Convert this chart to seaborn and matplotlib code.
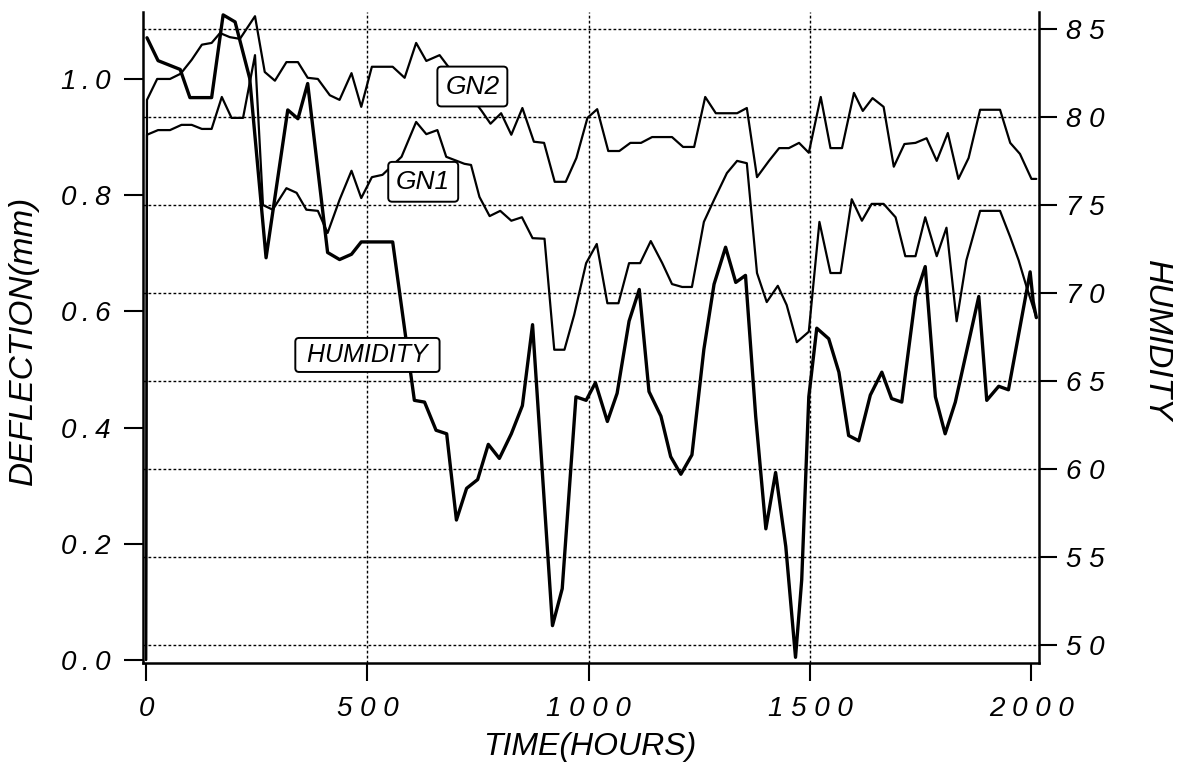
import matplotlib
matplotlib.use("Agg")
import matplotlib.pyplot as plt
import pandas as pd
import seaborn as sns

# --- Deflection of specimen GN2 (mm) against time (hours) ---
gn2_hours = [0, 2, 25, 54, 78, 103, 126, 148, 167, 189,
             212, 246, 268, 291, 317, 343, 365, 388, 415, 437,
             464, 486, 510, 557, 584, 610, 633, 663, 758, 778,
             802, 825, 850, 876, 899, 923, 948, 972, 997, 1019,
             1044, 1069, 1094, 1118, 1143, 1188, 1213, 1238, 1263, 1287,
             1335, 1357, 1380, 1407, 1430, 1452, 1475, 1497, 1524, 1546,
             1572, 1599, 1619, 1641, 1666, 1689, 1713, 1738, 1763, 1786,
             1811, 1835, 1858, 1884, 1929, 1952, 1974, 2000, 2011]
gn2_mm = [0.0, 0.964, 1.000, 1.000, 1.009, 1.033, 1.059, 1.062, 1.079, 1.072,
          1.069, 1.108, 1.012, 0.997, 1.029, 1.029, 1.002, 1.000, 0.972, 0.964,
          1.010, 0.952, 1.021, 1.021, 1.002, 1.062, 1.031, 1.041, 0.945, 0.923,
          0.941, 0.904, 0.950, 0.892, 0.890, 0.823, 0.823, 0.864, 0.933, 0.948,
          0.876, 0.876, 0.890, 0.890, 0.900, 0.900, 0.883, 0.883, 0.969, 0.941,
          0.941, 0.950, 0.831, 0.859, 0.881, 0.881, 0.890, 0.873, 0.969, 0.881,
          0.881, 0.976, 0.945, 0.967, 0.952, 0.849, 0.888, 0.890, 0.898, 0.859,
          0.907, 0.828, 0.864, 0.947, 0.947, 0.890, 0.871, 0.828, 0.828]

# --- Deflection of specimen GN1 (mm) ---
gn1_hours = [0, 2, 27, 54, 80, 103, 126, 148, 171, 193,
             219, 246, 264, 286, 317, 340, 362, 388, 410, 437,
             464, 486, 510, 534, 577, 610, 633, 658, 678, 719,
             734, 753, 776, 800, 825, 849, 873, 900, 922, 945,
             967, 994, 1018, 1042, 1067, 1091, 1116, 1140, 1166, 1188,
             1211, 1233, 1260, 1283, 1312, 1335, 1357, 1380, 1402, 1427,
             1447, 1470, 1497, 1521, 1546, 1569, 1594, 1617, 1639, 1666,
             1693, 1715, 1738, 1760, 1786, 1808, 1831, 1853, 1884, 1929,
             1952, 1971, 1989, 2000, 2011]
gn1_mm = [0.0, 0.904, 0.912, 0.912, 0.921, 0.921, 0.914, 0.914, 0.969, 0.933,
          0.933, 1.041, 0.783, 0.775, 0.812, 0.804, 0.775, 0.773, 0.735, 0.792,
          0.842, 0.795, 0.831, 0.835, 0.866, 0.926, 0.905, 0.912, 0.866, 0.854,
          0.852, 0.797, 0.764, 0.773, 0.756, 0.762, 0.726, 0.725, 0.534, 0.534,
          0.594, 0.683, 0.716, 0.614, 0.614, 0.683, 0.683, 0.721, 0.683, 0.647,
          0.642, 0.642, 0.754, 0.792, 0.838, 0.859, 0.855, 0.666, 0.616, 0.644,
          0.611, 0.547, 0.565, 0.754, 0.666, 0.666, 0.793, 0.756, 0.785, 0.785,
          0.762, 0.695, 0.695, 0.762, 0.695, 0.744, 0.583, 0.688, 0.773, 0.773,
          0.728, 0.688, 0.642, 0.616, 0.590]

# --- Relative humidity (%) ---
hum_hours = [2, 27, 77, 99, 148, 174, 201, 234, 271, 320,
             343, 365, 410, 437, 464, 486, 557, 606, 629, 655,
             679, 701, 724, 749, 773, 798, 825, 850, 873, 918,
             940, 971, 994, 1015, 1042, 1064, 1091, 1114, 1136, 1163,
             1185, 1208, 1233, 1260, 1283, 1309, 1332, 1354, 1377, 1400,
             1422, 1445, 1467, 1481, 1497, 1515, 1542, 1565, 1587, 1610,
             1636, 1662, 1684, 1707, 1738, 1760, 1783, 1805, 1828, 1881,
             1899, 1926, 1948, 1997, 2004, 2011]
hum_pct = [84.5, 83.2, 82.7, 81.1, 81.1, 85.8, 85.4, 82.2, 72.0, 80.4,
           79.9, 81.9, 72.3, 71.9, 72.2, 72.9, 72.9, 63.9, 63.8, 62.2,
           62.0, 57.1, 58.9, 59.4, 61.4, 60.6, 62.0, 63.6, 68.2, 51.1,
           53.2, 64.1, 63.9, 64.9, 62.7, 64.3, 68.4, 70.2, 64.4, 63.0,
           60.7, 59.7, 60.8, 66.8, 70.5, 72.6, 70.6, 71.0, 63.0, 56.6,
           59.8, 55.6, 49.3, 53.7, 64.1, 68.0, 67.4, 65.5, 61.9, 61.6,
           64.2, 65.5, 64.0, 63.8, 69.8, 71.5, 64.1, 62.0, 63.8, 69.8,
           63.9, 64.7, 64.5, 71.2, 69.5, 68.6]

# Axis ticks
time_ticks = [0, 500, 1000, 1500, 2000]
defl_ticks = [0.0, 0.2, 0.4, 0.6, 0.8, 1.0]
hum_ticks = [50, 55, 60, 65, 70, 75, 80, 85]

gn2 = pd.DataFrame({"hours": gn2_hours, "mm": gn2_mm})
gn1 = pd.DataFrame({"hours": gn1_hours, "mm": gn1_mm})
hum = pd.DataFrame({"hours": hum_hours, "pct": hum_pct})

sns.set_style("white")
plt.rcParams["font.family"] = ["Liberation Sans", "DejaVu Sans"]
plt.rcParams["font.style"] = "italic"
plt.rcParams["text.color"] = "black"
plt.rcParams["axes.labelcolor"] = "black"
plt.rcParams["xtick.color"] = "black"
plt.rcParams["ytick.color"] = "black"

fig = plt.figure(figsize=(11.88, 7.71), dpi=100)
ax = fig.add_axes([0.12, 0.14008, 0.7542, 0.8444])
ax2 = ax.twinx()
ax.set_zorder(2)
ax2.set_zorder(1)
ax.patch.set_visible(False)

sns.lineplot(data=gn2, x="hours", y="mm", ax=ax, color="black",
             linewidth=1.6, estimator=None, sort=False)
sns.lineplot(data=gn1, x="hours", y="mm", ax=ax, color="black",
             linewidth=1.6, estimator=None, sort=False)
sns.lineplot(data=hum, x="hours", y="pct", ax=ax2, color="black",
             linewidth=2.4, estimator=None, sort=False)

ax.set_xlim(-8, 2016)
ax.set_ylim(-0.00516, 1.1153)
ax2.set_ylim(48.977, 85.966)

ax.set_xticks(time_ticks)
ax.set_xticklabels([" ".join(str(t)) for t in time_ticks])
ax.set_yticks(defl_ticks)
ax.set_yticklabels(["\u2009".join(f"{v:.1f}") for v in defl_ticks])
ax2.set_yticks(hum_ticks)
ax2.set_yticklabels([" ".join(str(h)) for h in hum_ticks])

for a in (ax, ax2):
    a.set_xlabel("")
    a.set_ylabel("")
    for s in a.spines.values():
        s.set_visible(False)
        s.set_linewidth(1.8)
        s.set_color("black")
ax.spines["left"].set_visible(True)
ax.spines["bottom"].set_visible(True)
ax2.spines["right"].set_visible(True)

ax.tick_params(axis="x", bottom=True, direction="out", length=13, width=1.5,
               pad=11, labelsize=20, colors="black")
ax.tick_params(axis="y", left=True, direction="out", length=13.7, width=1.5,
               pad=9.4, labelsize=20, colors="black")
ax2.tick_params(axis="y", right=True, direction="out", length=13, width=1.5,
                pad=6.5, labelsize=20, colors="black")

# Dotted grid: humidity levels horizontally, time marks vertically
dots = (0, (2, 1.6))
ax2.yaxis.grid(True, linestyle=dots, color="black", linewidth=1.0)
ax.set_axisbelow(True)
ax.xaxis.grid(True, linestyle=dots, color="black", linewidth=1.0)
xgl = ax.get_xgridlines()
xgl[0].set_visible(False)
xgl[-1].set_visible(False)

# Curve labels
box = dict(boxstyle="round,pad=0.3,rounding_size=0.15", fc="white",
           ec="black", lw=1.4)
ax.text(737, 0.987, "GN2", ha="center", va="center", fontsize=19,
        color="black", bbox=box, zorder=10)
ax.text(626, 0.823, "GN1", ha="center", va="center", fontsize=19,
        color="black", bbox=box, zorder=10)
ax.text(500, 0.525, " HUMIDITY ", ha="center", va="center", fontsize=18,
        color="black",
        bbox=dict(box, boxstyle="round,pad=0.2,rounding_size=0.15"), zorder=10)

# Axis titles
fig.text(23 / 1188, 1 - 340 / 771, "DEFLECTION(mm)", rotation=90,
         ha="center", va="center", fontsize=24, color="black")
fig.text(1156 / 1188, 1 - 341 / 771, "HUMIDITY", rotation=-90,
         ha="center", va="center", fontsize=24, color="black")
fig.text(590 / 1188, 1 - 747 / 771, "TIME(HOURS)",
         ha="center", va="center", fontsize=23, color="black")

fig.savefig("out.png", dpi=100, facecolor="white")
